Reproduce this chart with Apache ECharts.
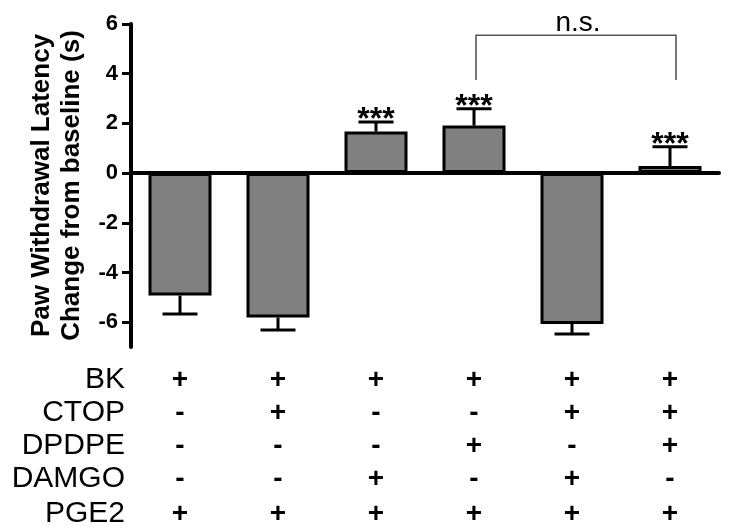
<!DOCTYPE html>
<html>
<head>
<meta charset="utf-8">
<script src="https://cdn.jsdelivr.net/npm/echarts@6/dist/echarts.min.js"></script>
<style>
html,body{margin:0;padding:0;background:#fff;}
#chart{width:729px;height:530px;}
</style>
</head>
<body>
<div id="chart"></div>
<script>
// ---- data ----
const categories = ['G1', 'G2', 'G3', 'G4', 'G5', 'G6'];
const means = [-4.93, -5.81, 1.67, 1.91, -6.07, 0.28];
const sems = [0.74, 0.51, 0.39, 0.68, 0.41, 0.78];
const sigLabels = ['', '', '***', '***', '', '***'];
const yTicks = [-6, -4, -2, 0, 2, 4, 6];
const yMin = -7;
const yMax = 6;
const rowNames = ['BK', 'CTOP', 'DPDPE', 'DAMGO', 'PGE2'];
const rowBK = ['+', '+', '+', '+', '+', '+'];
const rowCTOP = ['-', '+', '-', '-', '+', '+'];
const rowDPDPE = ['-', '-', '-', '+', '-', '+'];
const rowDAMGO = ['-', '-', '+', '-', '+', '-'];
const rowPGE2 = ['+', '+', '+', '+', '+', '+'];
const bracketFrom = 3;     // category index (4th bar)
const bracketTo = 5;       // category index (6th bar)
const bracketTop = 5.55;
const bracketLegEnd = 3.75;
const bracketLabel = 'n.s.';
const yAxisName = 'Paw Withdrawal Latency\nChange from baseline (s)';

// ---- chart ----
const FONT = "'Liberation Sans', Arial, sans-serif";
const rows = [rowBK, rowCTOP, rowDPDPE, rowDAMGO, rowPGE2];
const rowOffsets = [33, 66, 99, 132, 167];

const chart = echarts.init(document.getElementById('chart'), null, {renderer: 'canvas'});

const xAxes = [{
  type: 'category',
  data: categories,
  gridIndex: 0,
  position: 'bottom',
  axisLine: {show: true, onZero: true, lineStyle: {color: '#000', width: 4}},
  axisTick: {show: false},
  axisLabel: {show: false},
  splitLine: {show: false}
}];
rows.forEach(function (row, r) {
  xAxes.push({
    type: 'category',
    data: categories,
    gridIndex: 0,
    position: 'bottom',
    offset: rowOffsets[r],
    name: rowNames[r],
    nameLocation: 'start',
    nameGap: 6,
    nameTextStyle: {fontFamily: FONT, fontSize: 30, color: '#000', align: 'right', verticalAlign: 'middle'},
    axisLine: {show: false, onZero: false},
    axisTick: {show: false},
    splitLine: {show: false},
    axisLabel: {
      show: true, interval: 0, margin: 0,
      verticalAlign: 'middle',
      fontFamily: FONT, fontSize: 28, fontWeight: 'bold', color: '#000',
      formatter: function (v, i) { return row[i]; }
    }
  });
});

const option = {
  animation: false,
  backgroundColor: '#fff',
  grid: {left: 131, right: 10, top: 24, bottom: 183, containLabel: false},
  xAxis: xAxes,
  yAxis: {
    type: 'value',
    min: yMin,
    max: yMax,
    name: yAxisName,
    nameLocation: 'middle',
    nameRotate: 90,
    nameGap: 44,
    nameTextStyle: {fontFamily: FONT, fontSize: 26, fontWeight: 'bold', color: '#000', lineHeight: 30},
    axisLine: {show: true, onZero: false, lineStyle: {color: '#000', width: 4}},
    axisTick: {show: true, length: 9, lineStyle: {color: '#000', width: 3}, customValues: yTicks},
    axisLabel: {show: true, margin: 13, fontFamily: FONT, fontSize: 22, fontWeight: 'bold', color: '#000', customValues: yTicks},
    splitLine: {show: false}
  },
  series: [
    {
      type: 'bar',
      xAxisIndex: 0,
      data: means,
      barWidth: 63,
      itemStyle: {color: '#808080', borderColor: '#000', borderWidth: 3},
      z: 2
    },
    {
      type: 'custom',
      xAxisIndex: 0,
      data: means.map(function (m, i) { return [i, m, sems[i]]; }),
      z: 3,
      renderItem: function (params, api) {
        const i = api.value(0), m = api.value(1), e = api.value(2);
        const dir = m >= 0 ? 1 : -1;
        const p0 = api.coord([i, m]);
        const p1 = api.coord([i, m + dir * e]);
        const hw = 17.5;
        const children = [
          {type: 'line', shape: {x1: p0[0], y1: p0[1], x2: p1[0], y2: p1[1]}, style: {stroke: '#000', lineWidth: 3}},
          {type: 'line', shape: {x1: p1[0] - hw, y1: p1[1], x2: p1[0] + hw, y2: p1[1]}, style: {stroke: '#000', lineWidth: 3}}
        ];
        const s = sigLabels[params.dataIndex];
        if (s) {
          children.push({type: 'text', x: p1[0], y: p1[1] - 2, style: {text: s, fontFamily: FONT, fontSize: 32, fontWeight: 'bold', fill: '#000', align: 'center', verticalAlign: 'middle'}});
        }
        return {type: 'group', children: children};
      }
    },
    {
      type: 'custom',
      xAxisIndex: 0,
      data: [[bracketFrom, bracketTo, bracketTop, bracketLegEnd]],
      z: 3,
      renderItem: function (params, api) {
        const a = api.coord([api.value(0), api.value(2)]);
        const b = api.coord([api.value(1), api.value(2)]);
        const aLow = api.coord([api.value(0), api.value(3)]);
        const bLow = api.coord([api.value(1), api.value(3)]);
        return {type: 'group', children: [
          {type: 'polyline', shape: {points: [[aLow[0] + 2, aLow[1]], [a[0] + 2, a[1]], [b[0] + 6, b[1]], [bLow[0] + 6, bLow[1]]]}, style: {stroke: '#555', lineWidth: 1.6, fill: null}},
          {type: 'text', x: (a[0] + b[0]) / 2 + 6, y: a[1] - 12, style: {text: bracketLabel, fontFamily: FONT, fontSize: 28, fill: '#000', align: 'center', verticalAlign: 'middle'}}
        ]};
      }
    }
  ]
};
chart.setOption(option);
</script>
</body>
</html>
